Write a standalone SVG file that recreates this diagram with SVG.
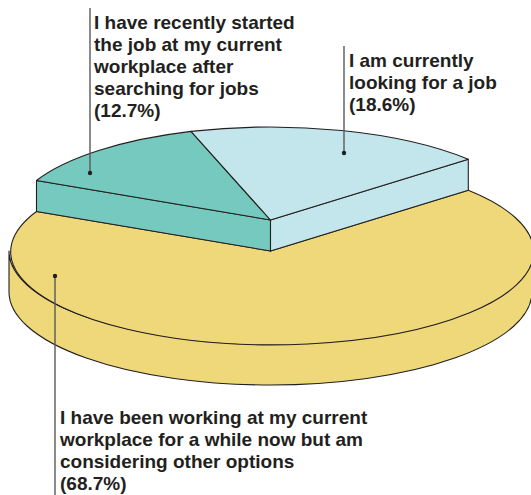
<svg xmlns="http://www.w3.org/2000/svg" width="531" height="495" viewBox="0 0 531 495">
  <style>
    .edge { stroke: #231f20; stroke-width: 1.1; stroke-linejoin: round; }
    .yellow { fill: #eed87a; }
    .teal { fill: #76c9be; }
    .blue { fill: #c2e6ec; }
    .lbl { font-family: "Liberation Sans", Arial, sans-serif; font-weight: bold; font-size: 19px; fill: #231f20; }
    .leader { stroke: #58595b; stroke-width: 1.4; fill: none; }
    .dot { fill: #231f20; }
  </style>
  <rect width="531" height="495" fill="#ffffff"/>

  <g id="slice-working">
    <path class="yellow edge" d="M 532,251 A 261.5 93 0 0 1 9,251 L 9,292 A 261.5 93 0 0 0 532,292 Z"/>
    <path class="yellow edge" d="M 270.5,251 L 468.3,190.3 A 261.5 93 0 1 1 36.5,211.5 Z"/>
  </g>

  <g id="slice-recent">
    <path class="teal edge" d="M 36.5,180.5 L 270.5,220 L 270.5,251 L 36.5,211.5 Z"/>
    <path class="teal edge" d="M 270.5,220 L 191,131.4 A 261.5 93 0 0 0 36.5,180.5 Z"/>
  </g>

  <g id="slice-looking">
    <path class="blue edge" d="M 270.5,220 L 468.3,159.3 L 468.3,190.3 L 270.5,251 Z"/>
    <path class="blue edge" d="M 270.5,220 L 468.3,159.3 A 261.5 93 0 0 0 191,131.4 Z"/>
  </g>

  <g id="connectors">
    <line class="leader" x1="90" y1="8" x2="90" y2="173"/>
    <circle class="dot" cx="90" cy="173" r="2.2"/>
    <line class="leader" x1="344" y1="46" x2="344" y2="153"/>
    <circle class="dot" cx="344" cy="153" r="2.2"/>
    <line class="leader" x1="55" y1="276" x2="55" y2="495"/>
    <circle class="dot" cx="55" cy="276" r="2.2"/>
  </g>

  <g id="label-recent">
    <text class="lbl" x="94" y="28.5">I have recently started</text>
    <text class="lbl" x="94" y="50.5">the job at my current</text>
    <text class="lbl" x="94" y="72.5">workplace after</text>
    <text class="lbl" x="94" y="94.5">searching for jobs</text>
    <text class="lbl" x="94" y="116.5">(12.7%)</text>
  </g>

  <g id="label-looking">
    <text class="lbl" x="349" y="66.5">I am currently</text>
    <text class="lbl" x="349" y="88.5">looking for a job</text>
    <text class="lbl" x="349" y="110.5">(18.6%)</text>
  </g>

  <g id="label-working">
    <text class="lbl" x="60" y="423.5">I have been working at my current</text>
    <text class="lbl" x="60" y="445.5">workplace for a while now but am</text>
    <text class="lbl" x="60" y="467.5">considering other options</text>
    <text class="lbl" x="60" y="489.5">(68.7%)</text>
  </g>
</svg>
